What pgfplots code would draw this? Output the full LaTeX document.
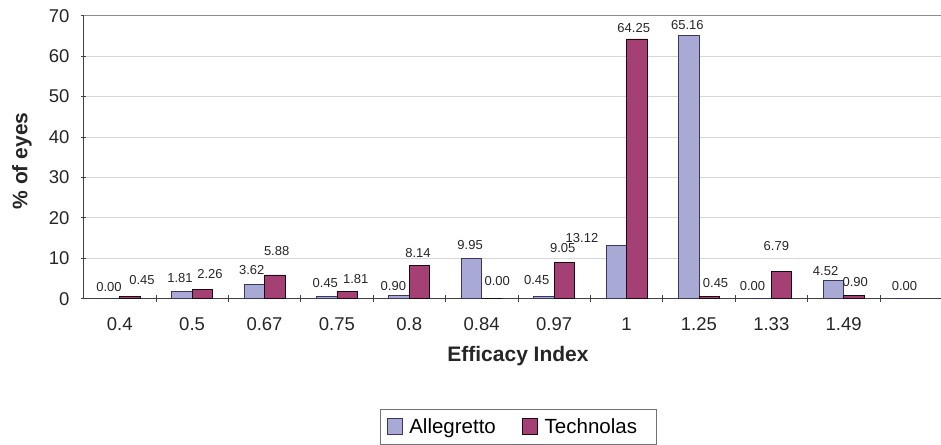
\documentclass[border=0pt]{standalone}
\usepackage{fontspec}
\setmainfont{Liberation Sans}
\usepackage{pgfplots}
\pgfplotsset{compat=1.18}

\definecolor{allegFill}{RGB}{169,169,213}
\definecolor{allegDraw}{RGB}{55,55,95}
\definecolor{techFill}{RGB}{165,64,116}
\definecolor{techDraw}{RGB}{25,10,20}
\definecolor{gridgray}{RGB}{215,215,215}

\pgfplotsset{sqlegend/.style={legend image code/.code={%
    \draw[##1] (0pt,-7.5pt) rectangle (15pt,8pt);}}}

\begin{document}
\begin{tikzpicture}
\begin{axis}[
    at={(83.5pt,-298.7pt)}, anchor=south west,
    scale only axis,
    width=857.5pt, height=283pt,
    ybar=0pt, bar width=20.5pt,
    xmin=-0.5, xmax=11.344,
    ymin=0, ymax=70,
    ytick={0,10,...,70},
    xtick={0,...,11},
    xticklabels={0.4,0.5,0.67,0.75,0.8,0.84,0.97,1,1.25,1.33,1.49,},
    major x tick style={draw=none},
    minor xtick={0.5,1.5,...,10.5},
    minor tick length=7pt,
    minor x tick style={black!75, line width=0.8pt},
    xtick align=outside, ytick align=outside,
    major tick length=5pt,
    y tick style={black!75, line width=0.8pt},
    axis x line=bottom, axis y line=left,
    axis line style={-, black!75, line width=0.8pt},
    ymajorgrids, grid style={gridgray, line width=0.8pt},
    /pgf/number format/assume math mode=true,
    tick label style={font=\fontsize{18.5}{20}\selectfont, black!85},
    xticklabel style={yshift=-13pt},
    yticklabel style={xshift=-8pt},
    clip=false,
    legend columns=2,
    legend style={at={(axis description cs:0.507,-0.3908)}, anchor=north,
        draw=black!55, line width=0.8pt,
        font=\fontsize{20.5}{22}\selectfont,
        inner xsep=6pt, inner ysep=7pt,
        /tikz/every even column/.append style={column sep=24pt}},
]
\addplot[fill=allegFill, draw=allegDraw, line width=0.8pt, sqlegend]
    coordinates {(0,0) (1,1.81) (2,3.62) (3,0.45) (4,0.90) (5,9.95)
                 (6,0.45) (7,13.12) (8,65.16) (9,0) (10,4.52) (11,0)};
\addlegendentry{\hspace*{5pt}Allegretto}
\addplot[fill=techFill, draw=techDraw, line width=0.8pt, sqlegend]
    coordinates {(0,0.45) (1,2.26) (2,5.88) (3,1.81) (4,8.14) (5,0)
                 (6,9.05) (7,64.25) (8,0.45) (9,6.79) (10,0.90)};
\addlegendentry{\hspace*{5pt}Technolas\hspace*{11pt}}

\draw[black!45, line width=0.8pt] (rel axis cs:0,1) -- (rel axis cs:1,1);

% data labels
\begin{scope}[every node/.style={font=\fontsize{13}{14}\selectfont, text=black!85, inner sep=0pt}]
\node at (axis cs:-0.148,2.77) {0.00};
\node at (axis cs:0.308,4.6) {0.45};
\node at (axis cs:0.833,5.04) {1.81};
\node at (axis cs:1.247,6.1) {2.26};
\node at (axis cs:1.823,7.1) {3.62};
\node at (axis cs:2.168,11.87) {5.88};
\node at (axis cs:2.84,3.8) {0.45};
\node at (axis cs:3.26,4.87) {1.81};
\node at (axis cs:3.78,3.14) {0.90};
\node at (axis cs:4.12,11.4) {8.14};
\node at (axis cs:4.84,13.3) {9.95};
\node at (axis cs:5.215,4.4) {0.00};
\node at (axis cs:5.76,4.6) {0.45};
\node at (axis cs:6.12,12.5) {9.05};
\node at (axis cs:6.385,15.0) {13.12};
\node at (axis cs:7.10,66.9) {64.25};
\node at (axis cs:7.84,67.6) {65.16};
\node at (axis cs:8.23,3.96) {0.45};
\node at (axis cs:8.74,3.14) {0.00};
\node at (axis cs:9.07,13.1) {6.79};
\node at (axis cs:9.75,6.93) {4.52};
\node at (axis cs:10.16,4.2) {0.90};
\node at (axis cs:10.84,3.14) {0.00};
\end{scope}
\end{axis}

\node[font=\bfseries\fontsize{21}{23}\selectfont, text=black!85] at (518pt,-356pt) {Efficacy Index};
\node[font=\bfseries\fontsize{21}{23}\selectfont, text=black!85, rotate=90] at (22pt,-161pt) {\% of eyes};

\pgfresetboundingbox
\useasboundingbox (0pt,0pt) rectangle (941pt,-444pt);
\end{tikzpicture}
\end{document}
